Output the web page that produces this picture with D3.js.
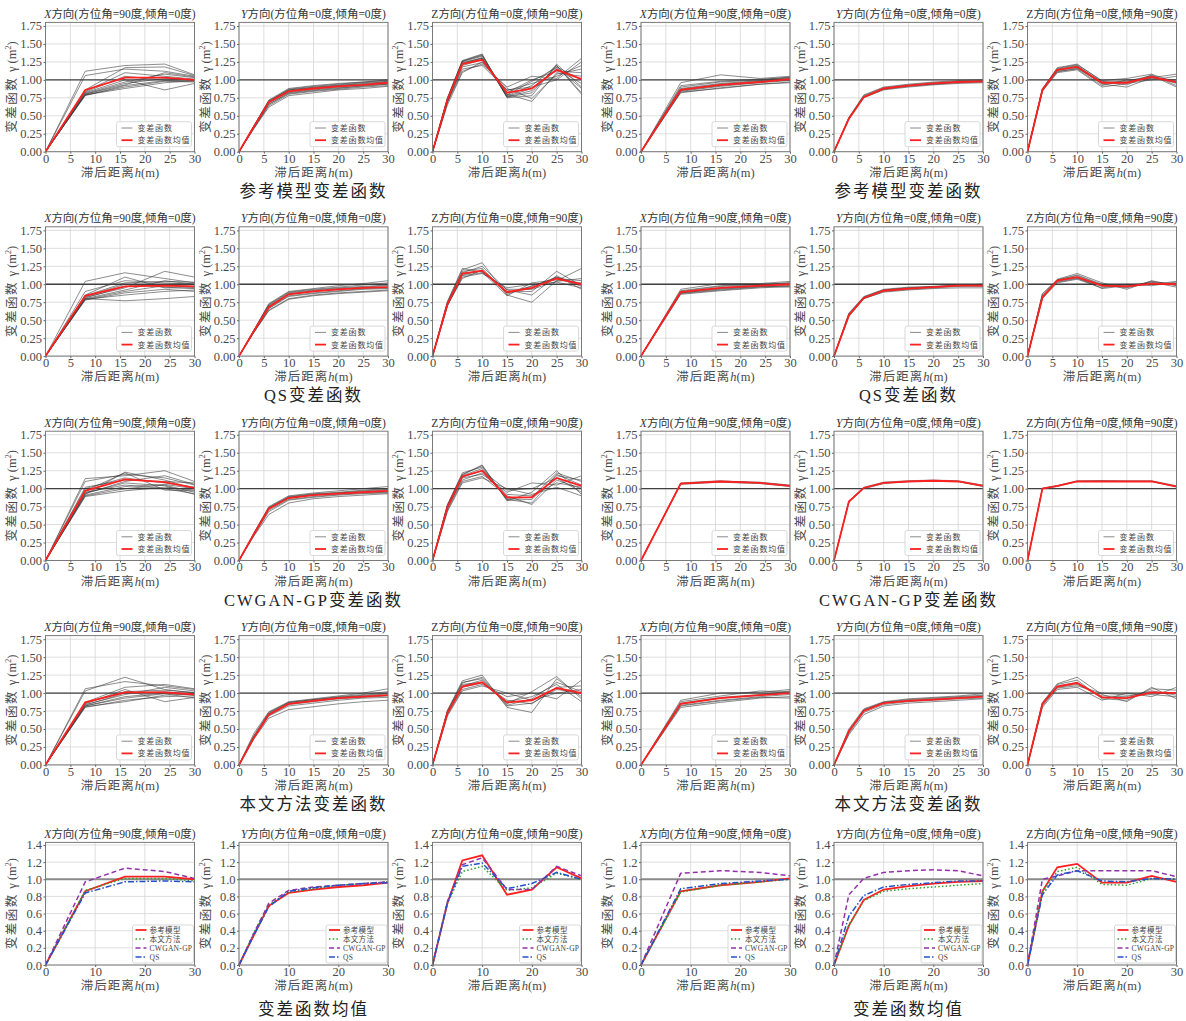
<!DOCTYPE html>
<html><head><meta charset="utf-8">
<script src="https://cdn.jsdelivr.net/npm/d3@7"></script>
<style>
body{margin:0;background:#fff;}
svg{display:block;}
svg text{font-family:"Liberation Serif","Times New Roman","Noto Sans CJK SC",serif !important;}
</style></head><body>
<svg id="chart" width="1186" height="1021"></svg>
<script>
// ---------------- DATA ----------------
const lagX = [0, 8, 16, 24, 30];
const lagYZ = [0, 3, 6, 10, 15, 20, 25, 30];
const xTicksRow = [0, 5, 10, 15, 20, 25, 30];
const yTicksRow = [0, 0.25, 0.5, 0.75, 1.0, 1.25, 1.5, 1.75];
const xTicksMean = [0, 10, 20, 30];
const yTicksMean = [0, 0.2, 0.4, 0.6, 0.8, 1.0, 1.2, 1.4];
const groupTitles = ["参考模型变差函数", "QS变差函数", "CWGAN-GP变差函数", "本文方法变差函数", "变差函数均值"];
const meanLegend = ["参考模型", "本文方法", "CWGAN-GP", "QS"];

// mean variograms (left dataset A, right dataset B)
const meanRefA_X = [0, 0.86, 1.03, 1.03, 1.00];
const meanRefA_Y = [0, 0.35, 0.69, 0.84, 0.88, 0.91, 0.93, 0.96];
const meanRefA_Z = [0, 0.72, 1.22, 1.28, 0.82, 0.88, 1.14, 1.01];
const meanQsA_X = [0, 0.84, 0.97, 0.98, 0.97];
const meanQsA_Y = [0, 0.35, 0.68, 0.86, 0.90, 0.93, 0.95, 0.96];
const meanQsA_Z = [0, 0.72, 1.15, 1.19, 0.89, 0.95, 1.08, 1.00];
const meanGanA_X = [0, 0.97, 1.13, 1.09, 1.01];
const meanGanA_Y = [0, 0.37, 0.72, 0.87, 0.91, 0.93, 0.95, 0.97];
const meanGanA_Z = [0, 0.74, 1.17, 1.25, 0.88, 0.88, 1.15, 1.04];
const meanOurA_X = [0, 0.87, 1.01, 1.01, 0.98];
const meanOurA_Y = [0, 0.38, 0.70, 0.85, 0.89, 0.93, 0.95, 0.97];
const meanOurA_Z = [0, 0.72, 1.09, 1.15, 0.87, 0.90, 1.07, 1.00];

const meanRefB_X = [0, 0.86, 0.93, 0.97, 1.01];
const meanRefB_Y = [0, 0.46, 0.76, 0.88, 0.92, 0.95, 0.97, 0.98];
const meanRefB_Z = [0, 0.86, 1.14, 1.18, 0.96, 0.96, 1.04, 0.97];
const meanQsB_X = [0, 0.89, 0.95, 0.98, 1.00];
const meanQsB_Y = [0, 0.57, 0.81, 0.91, 0.94, 0.96, 0.98, 0.98];
const meanQsB_Z = [0, 0.82, 1.05, 1.10, 0.98, 0.97, 1.01, 1.00];
const meanGanB_X = [0, 1.07, 1.10, 1.08, 1.04];
const meanGanB_Y = [0, 0.82, 1.01, 1.08, 1.10, 1.11, 1.10, 1.04];
const meanGanB_Z = [0, 1.00, 1.04, 1.10, 1.10, 1.10, 1.10, 1.03];
const meanOurB_X = [0, 0.85, 0.93, 0.97, 1.00];
const meanOurB_Y = [0, 0.47, 0.75, 0.86, 0.89, 0.91, 0.93, 0.95];
const meanOurB_Z = [0, 0.85, 1.09, 1.14, 0.94, 0.93, 1.01, 1.00];

// realizations (gray lines)
const realRefA_X = [
  [0,0.78,0.92,0.99,0.98],[0,0.80,0.95,1.02,1.00],[0,0.79,0.90,0.98,0.97],[0,1.12,1.20,1.22,1.07],
  [0,1.06,1.15,1.12,1.05],[0,0.82,1.00,0.86,0.95],[0,0.84,1.10,1.05,1.01],[0,0.81,0.97,1.08,1.03],
  [0,0.86,1.17,1.18,1.06],[0,0.79,0.88,0.96,0.99],[0,0.83,1.05,1.00,1.00],[0,0.80,0.93,1.10,1.04]];
const realRefA_Y = [
  [0,0.35,0.70,0.87,0.91,0.94,0.97,1.00],[0,0.34,0.66,0.82,0.86,0.89,0.91,0.94],
  [0,0.36,0.72,0.88,0.92,0.95,0.97,0.99],[0,0.32,0.62,0.78,0.82,0.86,0.88,0.91],
  [0,0.35,0.69,0.85,0.89,0.92,0.94,0.97],[0,0.33,0.64,0.80,0.84,0.87,0.90,0.92],
  [0,0.36,0.71,0.86,0.90,0.93,0.96,0.98],[0,0.34,0.68,0.83,0.87,0.90,0.93,0.95],
  [0,0.35,0.70,0.86,0.89,0.92,0.95,0.97],[0,0.33,0.66,0.81,0.85,0.88,0.92,0.94]];
const realRefA_Z = [
  [0,0.74,1.26,1.35,0.76,0.85,1.18,1.00],[0,0.70,1.22,1.30,0.78,0.92,1.20,0.82],
  [0,0.72,1.25,1.33,0.80,0.70,1.10,1.05],[0,0.68,1.12,1.22,0.90,1.05,1.02,1.30],
  [0,0.75,1.27,1.36,0.75,0.78,1.22,0.90],[0,0.65,1.10,1.25,0.85,0.95,1.05,1.20],
  [0,0.73,1.24,1.30,0.77,0.88,1.15,0.95],[0,0.71,1.20,1.28,0.82,1.00,1.12,1.10],
  [0,0.74,1.26,1.34,0.76,0.82,1.20,0.80],[0,0.69,1.18,1.24,0.88,0.74,1.08,1.15],
  [0,0.72,1.23,1.31,0.79,0.98,1.17,0.88],[0,0.70,1.15,1.20,0.86,0.90,1.00,1.25]];
const realRefB_X = [
  [0,0.82,0.89,0.94,0.97],[0,0.84,0.91,0.96,0.99],[0,0.86,0.93,0.97,1.01],[0,0.88,0.95,0.99,1.03],
  [0,0.96,1.07,1.02,1.05],[0,0.90,0.97,1.00,1.04],[0,0.83,0.88,0.94,0.96],[0,0.85,0.92,0.97,1.00],
  [0,0.87,0.94,0.98,1.02],[0,0.92,0.98,1.01,1.03]];
const realRefB_Y = [
  [0,0.46,0.76,0.87,0.91,0.94,0.96,0.97],[0,0.47,0.78,0.89,0.93,0.96,0.98,0.99],
  [0,0.45,0.75,0.86,0.90,0.93,0.95,0.96],[0,0.48,0.79,0.90,0.94,0.97,0.99,1.00],
  [0,0.46,0.77,0.88,0.92,0.95,0.97,0.98],[0,0.47,0.76,0.87,0.92,0.94,0.97,0.98]];
const realRefB_Z = [
  [0,0.86,1.15,1.20,0.95,0.97,1.05,0.95],[0,0.85,1.12,1.15,0.92,1.00,1.02,1.00],
  [0,0.87,1.17,1.22,0.98,0.93,1.07,0.92],[0,0.84,1.10,1.14,0.90,0.95,1.00,1.05],
  [0,0.88,1.16,1.21,0.99,1.02,1.08,0.96],[0,0.86,1.13,1.17,0.94,0.90,1.03,1.08],
  [0,0.85,1.14,1.19,0.97,0.98,1.06,0.90],[0,0.87,1.11,1.16,0.96,0.96,1.04,0.98]];

const realQsA_X = [
  [0,0.79,0.85,0.90,0.92],[0,1.04,1.16,1.08,1.02],[0,0.80,0.77,0.80,0.83],[0,0.82,0.95,1.18,1.10],
  [0,0.85,1.10,0.95,0.95],[0,0.78,0.88,0.93,0.90],[0,0.81,0.97,0.99,0.97],[0,0.90,1.05,1.02,1.00],
  [0,0.80,0.92,1.05,1.00],[0,0.83,1.00,0.96,0.94],[0,0.79,0.90,0.98,0.96],[0,0.84,1.02,1.04,1.03]];
const realQsA_Y = [
  [0,0.36,0.72,0.89,0.93,0.96,0.99,1.02],[0,0.33,0.64,0.80,0.85,0.88,0.90,0.92],
  [0,0.35,0.69,0.86,0.90,0.93,0.95,0.96],[0,0.36,0.73,0.90,0.94,0.98,1.01,1.05],
  [0,0.34,0.66,0.83,0.87,0.90,0.93,0.94],[0,0.35,0.70,0.87,0.91,0.94,0.96,0.98],
  [0,0.34,0.67,0.84,0.88,0.91,0.94,0.95],[0,0.36,0.71,0.88,0.92,0.95,0.97,0.99],
  [0,0.33,0.63,0.79,0.84,0.87,0.89,0.91]];
const realQsA_Z = [
  [0,0.72,1.18,1.22,0.88,0.97,1.10,1.00],[0,0.75,1.20,1.30,0.85,0.75,1.05,1.22],
  [0,0.70,1.10,1.15,0.95,1.00,1.03,0.95],[0,0.74,1.15,1.18,0.90,0.90,1.18,0.98],
  [0,0.71,1.08,1.20,0.86,0.98,1.08,1.05],[0,0.73,1.16,1.25,0.92,0.85,1.12,0.93],
  [0,0.76,1.22,1.17,0.84,1.02,1.06,1.02],[0,0.72,1.13,1.19,0.89,0.94,1.10,0.97],
  [0,0.70,1.12,1.16,0.93,0.93,1.04,1.08]];
const realQsB_X = [
  [0,0.86,0.91,0.95,0.97],[0,0.93,1.01,1.01,1.04],[0,0.88,0.94,0.97,0.99],[0,0.90,0.97,0.99,1.02],
  [0,0.87,0.92,0.96,0.98],[0,0.91,0.98,1.00,1.02],[0,0.89,0.95,0.98,1.00],[0,0.88,0.93,0.97,0.96]];
const realQsB_Y = [
  [0,0.57,0.81,0.91,0.94,0.96,0.98,0.99],[0,0.55,0.80,0.89,0.92,0.94,0.95,0.95],
  [0,0.59,0.83,0.93,0.96,0.97,0.99,1.00],[0,0.58,0.82,0.92,0.95,0.97,0.98,0.99],
  [0,0.56,0.80,0.90,0.93,0.95,0.97,0.97],[0,0.60,0.82,0.92,0.95,0.96,0.99,1.00]];
const realQsB_Z = [
  [0,0.82,1.05,1.10,0.98,0.97,1.01,1.00],[0,0.86,1.07,1.15,1.02,0.93,1.05,0.98],
  [0,0.80,1.02,1.07,0.95,1.00,0.98,1.03],[0,0.84,1.06,1.12,0.99,0.95,1.03,0.96],
  [0,0.81,1.04,1.09,0.94,0.98,1.00,1.04],[0,0.87,1.06,1.13,1.00,0.96,1.04,0.99],
  [0,0.83,1.03,1.08,0.97,0.99,1.02,1.01]];

const realGanA_X = [
  [0,0.90,1.00,1.05,0.95],[0,1.14,1.18,1.25,1.10],[0,0.92,1.23,1.12,1.00],[0,0.95,1.05,1.00,0.93],
  [0,1.10,1.20,1.15,1.05],[0,0.89,0.97,1.02,0.98],[0,1.00,1.15,1.08,1.02],[0,0.93,1.10,1.18,1.06],
  [0,0.97,1.22,0.98,0.97],[0,0.91,1.03,1.06,1.00],[0,1.02,1.12,1.10,1.08],[0,0.94,1.08,1.04,0.92]];
const realGanA_Y = [
  [0,0.37,0.73,0.88,0.92,0.94,0.96,0.98],[0,0.34,0.64,0.80,0.86,0.89,0.91,0.93],
  [0,0.38,0.75,0.90,0.94,0.97,1.00,1.03],[0,0.37,0.72,0.87,0.91,0.93,0.95,0.96],
  [0,0.36,0.70,0.85,0.89,0.92,0.94,0.95],[0,0.38,0.74,0.89,0.93,0.95,0.98,1.00],
  [0,0.35,0.68,0.84,0.88,0.91,0.93,0.94],[0,0.37,0.73,0.88,0.92,0.94,0.97,0.99]];
const realGanA_Z = [
  [0,0.75,1.18,1.28,0.85,0.80,1.20,1.05],[0,0.78,1.20,1.32,0.83,0.95,1.25,0.92],
  [0,0.72,1.15,1.20,0.95,1.08,1.05,1.18],[0,0.70,1.10,1.17,0.90,0.78,1.12,1.00],
  [0,0.77,1.22,1.30,0.86,0.88,1.22,1.10],[0,0.74,1.16,1.25,0.98,1.00,1.15,0.95],
  [0,0.76,1.19,1.33,0.84,0.85,1.18,1.12],[0,0.73,1.12,1.22,0.92,0.90,1.08,1.02],
  [0,0.68,1.08,1.15,1.00,0.92,1.02,0.90]];
const realGanB_X = [
  [0,1.06,1.09,1.07,1.03],[0,1.07,1.10,1.08,1.04],[0,1.08,1.11,1.08,1.04],[0,1.07,1.10,1.09,1.05]];
const realGanB_Y = [
  [0,0.81,1.00,1.07,1.10,1.11,1.10,1.03],[0,0.83,1.02,1.09,1.11,1.12,1.11,1.05],
  [0,0.82,1.01,1.08,1.10,1.11,1.10,1.04]];
const realGanB_Z = [
  [0,1.00,1.03,1.10,1.10,1.10,1.10,1.03],[0,1.01,1.04,1.10,1.11,1.11,1.11,1.04],
  [0,1.00,1.04,1.11,1.11,1.10,1.10,1.03]];

const realOurA_X = [
  [0,1.03,1.22,1.05,1.00],[0,1.06,1.16,1.10,1.05],[0,0.80,0.90,0.95,0.96],[0,0.82,0.95,1.00,0.97],
  [0,0.85,1.05,0.88,0.94],[0,0.81,0.88,0.97,0.99],[0,0.87,1.08,1.12,1.06],[0,0.83,1.00,1.02,0.98],
  [0,0.84,0.98,1.08,1.03],[0,0.82,0.93,0.99,0.93],[0,0.86,1.02,1.04,1.01]];
const realOurA_Y = [
  [0,0.40,0.72,0.87,0.91,0.94,0.97,1.00],[0,0.36,0.65,0.77,0.81,0.85,0.88,0.90],
  [0,0.44,0.74,0.88,0.92,0.96,1.00,1.06],[0,0.38,0.70,0.85,0.89,0.93,0.95,0.97],
  [0,0.37,0.68,0.82,0.86,0.90,0.93,0.94],[0,0.39,0.71,0.86,0.90,0.94,0.96,0.99],
  [0,0.38,0.69,0.84,0.88,0.92,0.94,0.96],[0,0.41,0.73,0.87,0.91,0.95,0.98,1.02]];
const realOurA_Z = [
  [0,0.74,1.15,1.20,0.82,0.86,1.05,1.00],[0,0.70,1.05,1.12,0.95,1.00,0.92,1.18],
  [0,0.76,1.17,1.25,0.80,0.73,1.20,0.95],[0,0.72,1.12,1.15,0.88,0.95,1.12,0.88],
  [0,0.68,1.03,1.10,1.00,0.90,1.00,1.05],[0,0.73,1.10,1.18,0.85,1.02,1.23,0.92],
  [0,0.71,1.08,1.14,0.90,0.85,1.08,1.10],[0,0.75,1.14,1.22,0.83,0.92,1.15,1.02]];
const realOurB_X = [
  [0,0.80,0.87,0.93,0.95],[0,0.90,1.00,1.01,1.05],[0,0.83,0.90,0.95,0.98],[0,0.85,0.93,0.97,1.02],
  [0,0.88,0.96,1.03,1.01],[0,0.82,0.89,0.94,0.93],[0,0.86,0.94,0.98,1.03]];
const realOurB_Y = [
  [0,0.46,0.75,0.86,0.89,0.91,0.93,0.95],[0,0.42,0.70,0.82,0.86,0.88,0.90,0.92],
  [0,0.50,0.78,0.88,0.92,0.94,0.96,0.99],[0,0.47,0.76,0.87,0.90,0.92,0.94,0.96],
  [0,0.44,0.73,0.84,0.88,0.90,0.92,0.93],[0,0.48,0.77,0.87,0.91,0.93,0.95,0.97]];
const realOurB_Z = [
  [0,0.85,1.10,1.15,0.94,0.93,1.01,1.00],[0,0.87,1.13,1.22,0.98,0.88,1.08,0.92],
  [0,0.80,1.05,1.08,0.90,1.00,0.95,1.08],[0,0.84,1.08,1.12,0.96,0.95,1.03,0.97],
  [0,0.86,1.12,1.18,0.92,0.90,1.06,1.04],[0,0.82,1.07,1.10,1.00,0.97,0.98,0.95]];

// ---------------- DRAWING ----------------
const FONT = '"Liberation Serif","Times New Roman","Noto Sans CJK SC",serif';
const svg = d3.select("#chart");
svg.append("rect").attr("width",1186).attr("height",1021).attr("fill","#fff");

const PL = [45.5, 239, 432.5, 641, 834, 1027.5];
const PW = 149;
const ROWB = [151.7, 356.1, 560.5, 764.9, 965];
const dirs = ["X","Y","Z"];
const dirTitle = {
  X: ["X", "方向(方位角=90度,倾角=0度)", true],
  Y: ["Y", "方向(方位角=0度,倾角=0度)", true],
  Z: ["Z", "方向(方位角=0度,倾角=90度)", false]
};
const meanStyles = [
  {color:"#ff2020", w:1.8, dash:null},
  {color:"#2ca02c", w:1.5, dash:"1.5,2.2"},
  {color:"#9232a8", w:1.5, dash:"5,3"},
  {color:"#2352c8", w:1.5, dash:"6,2,1.5,2"}
];

function drawPanel(px, pb, dir, cfg) {
  const isMean = cfg.isMean;
  const ymax = isMean ? 1.43 : 1.8;
  const ph = isMean ? 122.6 : 129.3;
  const pt = pb - ph;
  const x = d3.scaleLinear().domain([0,30]).range([px, px+PW]);
  const y = d3.scaleLinear().domain([0,ymax]).range([pb, pt]);
  const g = svg.append("g");
  const xt = isMean ? xTicksMean : xTicksRow;
  const yt = isMean ? yTicksMean : yTicksRow;

  g.selectAll(null).data(xt).join("line")
    .attr("x1",d=>x(d)).attr("x2",d=>x(d)).attr("y1",pt).attr("y2",pb)
    .attr("stroke","#d6d6d6").attr("stroke-width",0.8);
  g.selectAll(null).data(yt).join("line")
    .attr("x1",px).attr("x2",px+PW).attr("y1",d=>y(d)).attr("y2",d=>y(d))
    .attr("stroke","#d6d6d6").attr("stroke-width",0.8);

  g.append("line").attr("x1",px).attr("x2",px+PW).attr("y1",y(1)).attr("y2",y(1))
    .attr("stroke", isMean ? "#8a8a8a" : "#404040").attr("stroke-width", isMean ? 1.8 : 1.3);

  const lags = dir === "X" ? lagX : lagYZ;
  const line = d3.line().x((d,i)=>x(lags[i])).y(d=>y(d));

  if (!isMean) {
    g.selectAll(null).data(cfg.reals).join("path")
      .attr("d", line).attr("fill","none")
      .attr("stroke","#383838").attr("stroke-opacity",0.68).attr("stroke-width",0.85);
    g.append("path").attr("d", line(cfg.mean)).attr("fill","none")
      .attr("stroke","#ff2020").attr("stroke-width",1.8);
  } else {
    cfg.series.forEach((s,i) => {
      const st = meanStyles[i];
      g.append("path").attr("d", line(s)).attr("fill","none")
        .attr("stroke", st.color).attr("stroke-width", st.w)
        .attr("stroke-dasharray", st.dash);
    });
  }

  g.append("rect").attr("x",px).attr("y",pt).attr("width",PW).attr("height",ph)
    .attr("fill","none").attr("stroke","#7a7a7a").attr("stroke-width",1);

  const ay = g.append("g").attr("transform",`translate(${px},0)`)
    .call(d3.axisLeft(y).tickValues(yt).tickSize(2).tickPadding(1.5)
      .tickFormat(d3.format(isMean ? ".1f" : ".2f")));
  ay.select(".domain").remove();
  ay.selectAll("line").attr("stroke","#666");
  ay.selectAll("text").style("font-family",FONT).attr("font-size",12.5).attr("fill","#4a4a4a");

  const axb = g.append("g").attr("transform",`translate(0,${pb})`)
    .call(d3.axisBottom(x).tickValues(xt).tickSize(2).tickPadding(0).tickFormat(d3.format("d")));
  axb.select(".domain").remove();
  axb.selectAll("line").attr("stroke","#666");
  axb.selectAll("text").style("font-family",FONT).attr("font-size",12.5).attr("fill","#4a4a4a");

  // title
  const t = g.append("text").attr("x", px+PW/2).attr("y", pt-4.5).attr("text-anchor","middle")
    .style("font-family",FONT).attr("font-size",11.5).attr("fill","#333");
  const dt = dirTitle[dir];
  t.append("tspan").attr("font-style", dt[2] ? "italic" : "normal").text(dt[0]);
  t.append("tspan").text(dt[1]);

  // y label
  const yl = g.append("text")
    .attr("transform",`translate(${px-29.5},${(pt+pb)/2}) rotate(-90)`)
    .attr("text-anchor","middle").style("font-family",FONT).attr("font-size",12.5)
    .attr("fill","#4a4a4a");
  yl.append("tspan").attr("letter-spacing",1.5).text("变差函数 ");
  yl.append("tspan").text("γ (m");
  yl.append("tspan").attr("font-size",8).attr("dy",-5).text("2");
  yl.append("tspan").attr("dy",5).text(")");

  // x label
  const xl = g.append("text").attr("x", px+PW/2).attr("y", pb+25)
    .attr("text-anchor","middle").style("font-family",FONT).attr("font-size",12.5)
    .attr("fill","#4a4a4a");
  xl.append("tspan").attr("letter-spacing",1).text("滞后距离");
  xl.append("tspan").attr("font-style","italic").text("h");
  xl.append("tspan").text("(m)");

  // legend
  if (!isMean) {
    const bx = px+PW-78, by = pb-30;
    g.append("rect").attr("x",bx).attr("y",by).attr("width",75).attr("height",25).attr("rx",2)
      .attr("fill","#fff").attr("fill-opacity",0.9).attr("stroke","#cfcfcf").attr("stroke-width",0.8);
    const items = [["变差函数","#8a8a8a",1],["变差函数均值","#ff2020",1.8]];
    items.forEach((it,i) => {
      const yy = by + 6.3 + i*12.2;
      g.append("line").attr("x1",bx+5).attr("x2",bx+16).attr("y1",yy).attr("y2",yy)
        .attr("stroke",it[1]).attr("stroke-width",it[2]);
      g.append("text").attr("x",bx+21).attr("y",yy+3).style("font-family",FONT)
        .attr("font-size",8).attr("letter-spacing",0.8).attr("fill","#444").text(it[0]);
    });
  } else {
    const bx = px+PW-62, by = pb-40;
    g.append("rect").attr("x",bx).attr("y",by).attr("width",61).attr("height",38).attr("rx",2)
      .attr("fill","#fff").attr("fill-opacity",0.9).attr("stroke","#cfcfcf").attr("stroke-width",0.8);
    meanLegend.forEach((name,i) => {
      const st = meanStyles[i];
      const yy = by + 5 + i*9;
      g.append("line").attr("x1",bx+3).attr("x2",bx+14).attr("y1",yy).attr("y2",yy)
        .attr("stroke",st.color).attr("stroke-width",st.w).attr("stroke-dasharray",st.dash);
      g.append("text").attr("x",bx+17).attr("y",yy+2.7).style("font-family",FONT)
        .attr("font-size",7.5).attr("letter-spacing",0.3).attr("fill","#444").text(name);
    });
  }
}

const rowsData = [
  { A:{X:[realRefA_X,meanRefA_X],Y:[realRefA_Y,meanRefA_Y],Z:[realRefA_Z,meanRefA_Z]},
    B:{X:[realRefB_X,meanRefB_X],Y:[realRefB_Y,meanRefB_Y],Z:[realRefB_Z,meanRefB_Z]} },
  { A:{X:[realQsA_X,meanQsA_X],Y:[realQsA_Y,meanQsA_Y],Z:[realQsA_Z,meanQsA_Z]},
    B:{X:[realQsB_X,meanQsB_X],Y:[realQsB_Y,meanQsB_Y],Z:[realQsB_Z,meanQsB_Z]} },
  { A:{X:[realGanA_X,meanGanA_X],Y:[realGanA_Y,meanGanA_Y],Z:[realGanA_Z,meanGanA_Z]},
    B:{X:[realGanB_X,meanGanB_X],Y:[realGanB_Y,meanGanB_Y],Z:[realGanB_Z,meanGanB_Z]} },
  { A:{X:[realOurA_X,meanOurA_X],Y:[realOurA_Y,meanOurA_Y],Z:[realOurA_Z,meanOurA_Z]},
    B:{X:[realOurB_X,meanOurB_X],Y:[realOurB_Y,meanOurB_Y],Z:[realOurB_Z,meanOurB_Z]} }
];

rowsData.forEach((row, r) => {
  ["A","B"].forEach((side, s) => {
    dirs.forEach((d, k) => {
      drawPanel(PL[s*3+k], ROWB[r], d, {isMean:false, reals: row[side][d][0], mean: row[side][d][1]});
    });
  });
});

const meanSets = {
  A: {X:[meanRefA_X,meanOurA_X,meanGanA_X,meanQsA_X],
      Y:[meanRefA_Y,meanOurA_Y,meanGanA_Y,meanQsA_Y],
      Z:[meanRefA_Z,meanOurA_Z,meanGanA_Z,meanQsA_Z]},
  B: {X:[meanRefB_X,meanOurB_X,meanGanB_X,meanQsB_X],
      Y:[meanRefB_Y,meanOurB_Y,meanGanB_Y,meanQsB_Y],
      Z:[meanRefB_Z,meanOurB_Z,meanGanB_Z,meanQsB_Z]}
};
["A","B"].forEach((side, s) => {
  dirs.forEach((d, k) => {
    drawPanel(PL[s*3+k], ROWB[4], d, {isMean:true, series: meanSets[side][d]});
  });
});

// group titles
const titleY = [197, 401.4, 605.8, 810.2, 1014.5];
groupTitles.forEach((tt, r) => {
  [0,1].forEach(s => {
    const cx = PL[s*3+1] + PW/2;
    svg.append("text").attr("x",cx).attr("y",titleY[r]).attr("text-anchor","middle")
      .style("font-family",FONT).attr("font-size",16.5).attr("letter-spacing",2)
      .attr("fill","#222").text(tt);
  });
});
</script>
</body></html>
